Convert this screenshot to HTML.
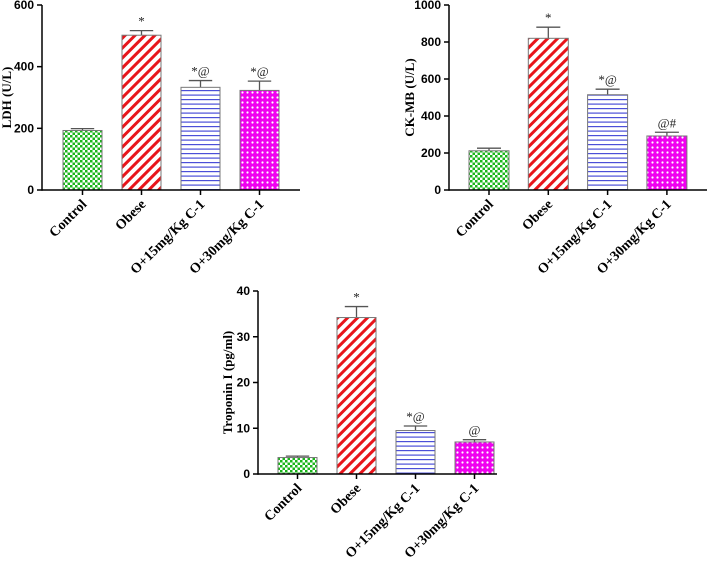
<!DOCTYPE html>
<html><head><meta charset="utf-8"><style>
body{margin:0;background:#fff;}
svg{display:block;font-family:"Liberation Serif",serif;}
</style></head><body>
<svg id="fig" width="708" height="562" viewBox="0 0 708 562" xmlns="http://www.w3.org/2000/svg">
<defs>
<pattern id="pGreen" width="5" height="5" patternUnits="userSpaceOnUse"><rect width="5" height="5" fill="#fff"/><rect width="2.5" height="2.5" fill="#1bb51b"/><rect x="2.5" y="2.5" width="2.5" height="2.5" fill="#1bb51b"/></pattern>
<pattern id="pRed" width="7" height="7" patternUnits="userSpaceOnUse" patternTransform="rotate(45)"><rect width="7" height="7" fill="#fff"/><rect width="3" height="7" fill="#e8151b"/></pattern>
<pattern id="pBlue" width="6" height="4.5" patternUnits="userSpaceOnUse"><rect width="6" height="4.5" fill="#fff"/><rect y="0" width="6" height="1.2" fill="#4b4fd8"/></pattern>
<pattern id="pMag" width="5" height="5" patternUnits="userSpaceOnUse"><rect width="5" height="5" fill="#f000f0"/><circle cx="2.5" cy="2.5" r="1.1" fill="#fff"/></pattern>
</defs>
</svg>
<script>
const categories=["Control","Obese","O+15mg/Kg C-1","O+30mg/Kg C-1"];
const ldhValues=[193,502,333,323];
const ldhErrors=[6,15,22,30];
const ldhAnnot=["","*","*@","*@"];
const ldhTicks=[0,200,400,600];
const ckValues=[212,820,515,292];
const ckErrors=[14,60,30,20];
const ckAnnot=["","*","*@","@#"];
const ckTicks=[0,200,400,600,800,1000];
const tropValues=[3.6,34.2,9.5,7.0];
const tropErrors=[0.3,2.4,1.0,0.5];
const tropAnnot=["","*","*@","@"];
const tropTicks=[0,10,20,30,40];
const fills=["url(#pGreen)","url(#pRed)","url(#pBlue)","url(#pMag)"];
const NS="http://www.w3.org/2000/svg";
const svg=document.getElementById('fig');
function mk(tag,attrs,parent,text){const e=document.createElementNS(NS,tag);for(const k in attrs)e.setAttribute(k,attrs[k]);if(text!==undefined)e.textContent=text;parent.appendChild(e);return e;}
function chart(id,cfg,vals,errs,ann,ticks,title){
 const g=mk('g',{},svg);
 
 
 const ymax=ticks[ticks.length-1];
 const y=v=>cfg.y0-(v/ymax)*(cfg.y0-cfg.yTop);
 const xc=i=>cfg.firstBar+cfg.bw/2+i*cfg.step;
 vals.forEach((v,i)=>{
  const x=xc(i)-cfg.bw/2;
  const top=y(v), eTop=y(v+errs[i]);
  const el=mk('line',{x1:xc(i),x2:xc(i),y1:top,y2:eTop,stroke:'#555','stroke-width':1.3},g);
  
  
  const cap=mk('line',{x1:xc(i)-cfg.bw*0.3,x2:xc(i)+cfg.bw*0.3,y1:eTop,y2:eTop,stroke:'#555','stroke-width':1.3},g);
  
  
  const r=mk('rect',{x:x,y:top,width:cfg.bw,height:cfg.y0-top,fill:fills[i],stroke:'#777','stroke-width':1},g);
  
  
  if(ann[i]){
   const t=mk('text',{x:xc(i),y:eTop-5,'text-anchor':'middle','font-size':13,fill:'#222'},g,ann[i]);
   
   
  }
  const tk=mk('line',{x1:xc(i),x2:xc(i),y1:cfg.y0,y2:cfg.y0+5,stroke:'#000','stroke-width':1.5},g);
  
  
  const lx=xc(i)+5, ly=cfg.y0+15;
  const lb=mk('text',{x:lx,y:ly,'text-anchor':'end','font-size':14,'font-weight':'bold',transform:`rotate(-45 ${lx} ${ly})`},g,categories[i]);
  
  
 });
 const ya=mk('line',{x1:cfg.ax,x2:cfg.ax,y1:cfg.yTop,y2:cfg.y0+0.75,stroke:'#000','stroke-width':1.5},g);
 
 
 const xa=mk('line',{x1:cfg.ax,x2:cfg.xEnd,y1:cfg.y0,y2:cfg.y0,stroke:'#000','stroke-width':1.5},g);
 
 
 ticks.forEach(t=>{
  const tl=mk('line',{x1:cfg.ax-5,x2:cfg.ax,y1:y(t),y2:y(t),stroke:'#000','stroke-width':1.5},g);
  
  
  const tt=mk('text',{x:cfg.ax-8,y:y(t)+4,'text-anchor':'end','font-size':12,'font-weight':'bold','font-family':'Liberation Sans, sans-serif'},g,String(t));
  
  
 });
 const tx=cfg.titleX, ty=(cfg.y0+cfg.yTop)/2;
 const ti=mk('text',{x:tx,y:ty,'text-anchor':'middle','font-size':13,'font-weight':'bold',transform:`rotate(-90 ${tx} ${ty})`},g,title);
 
 
}
chart('ldh-chart',{ax:42,yTop:5,y0:190,firstBar:63,bw:39,step:59,xEnd:300,titleX:11},ldhValues,ldhErrors,ldhAnnot,ldhTicks,'LDH (U/L)');
chart('ckmb-chart',{ax:449,yTop:5,y0:190,firstBar:469,bw:40,step:59.3,xEnd:707,titleX:414},ckValues,ckErrors,ckAnnot,ckTicks,'CK-MB (U/L)');
chart('troponin-chart',{ax:258,yTop:291,y0:474,firstBar:278,bw:39,step:59,xEnd:497,titleX:232},tropValues,tropErrors,tropAnnot,tropTicks,'Troponin I (pg/ml)');
</script>
</body></html>
